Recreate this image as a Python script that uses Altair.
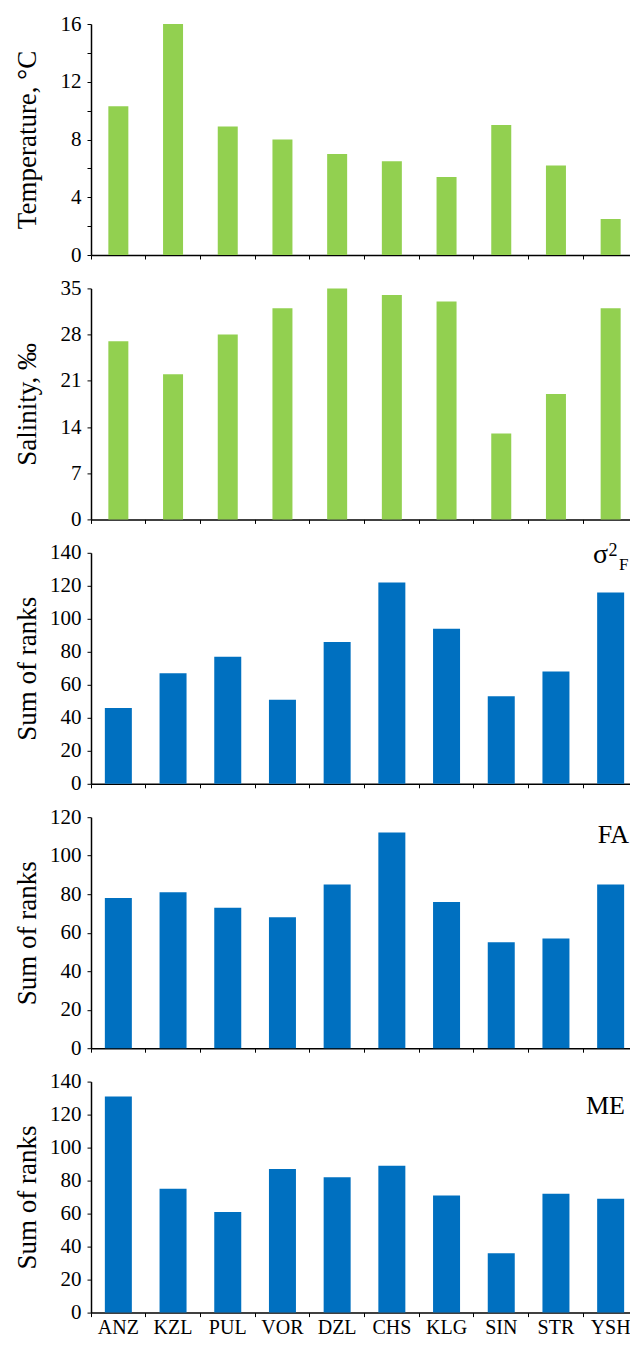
import altair as alt
import pandas as pd

# ---- data ----
sites = ["ANZ", "KZL", "PUL", "VOR", "DZL", "CHS", "KLG", "SIN", "STR", "YSH"]
temperature = [10.3, 16.0, 8.9, 8.0, 7.0, 6.5, 5.4, 9.0, 6.2, 2.5]
salinity = [27, 22, 28, 32, 35, 34, 33, 13, 19, 32]
sigma_ranks = [46, 67, 77, 51, 86, 122, 94, 53, 68, 116]
fa_ranks = [78, 81, 73, 68, 85, 112, 76, 55, 57, 85]
me_ranks = [131, 75, 61, 87, 82, 89, 71, 36, 72, 69]

temp_ticks = [0, 2, 4, 6, 8, 10, 12, 14, 16]
sal_ticks = [0, 7, 14, 21, 28, 35]
rank_ticks_140 = [0, 20, 40, 60, 80, 100, 120, 140]
rank_ticks_120 = [0, 20, 40, 60, 80, 100, 120]

FONT = "Liberation Serif"
GREEN = "#92D050"
BLUE = "#0070C0"
W = 547
H = 231


def panel(values, title, ticks, dmax, color, barsize, show_labels,
          label_expr=None, notes=None):
    df = pd.DataFrame({"site": sites, "value": values})
    x_axis = alt.Axis(
        title=None, labels=show_labels, bandPosition=0, tickSize=4,
        labelPadding=1, labelFontSize=20, labelFont=FONT, labelColor="black",
        domainColor="black", domainWidth=1.5, tickColor="black", tickWidth=1,
        labelAngle=0, grid=False,
    )
    y_kwargs = dict(
        title=title, values=ticks, tickSize=4, labelPadding=6,
        labelFontSize=21, labelFont=FONT, labelColor="black",
        domainColor="black", domainWidth=1.5, tickColor="black", tickWidth=1,
        titleFont=FONT, titleFontSize=27, titleFontWeight="normal",
        titleColor="black", titlePadding=8, minExtent=42, maxExtent=42,
        grid=False,
    )
    if label_expr:
        y_kwargs["labelExpr"] = label_expr
    bars = alt.Chart(df).mark_bar(size=barsize, color=color).encode(
        x=alt.X("site:N", sort=sites,
                scale=alt.Scale(paddingInner=0, paddingOuter=0), axis=x_axis),
        y=alt.Y("value:Q", scale=alt.Scale(domain=[0, dmax], nice=False),
                axis=alt.Axis(**y_kwargs)),
    )
    layers = [bars]
    if notes:
        for txt, xv, yv, size, align in notes:
            layers.append(
                alt.Chart(pd.DataFrame({"t": [txt]})).mark_text(
                    font=FONT, fontSize=size, align=align,
                    baseline="alphabetic", color="black",
                ).encode(text="t:N", x=alt.value(xv), y=alt.value(yv))
            )
    return alt.layer(*layers).properties(width=W, height=H)


p1 = panel(temperature, "Temperature, °C", temp_ticks, 16, GREEN, 20, False,
           label_expr="datum.value % 4 == 0 ? datum.label : ''")
p2 = panel(salinity, "Salinity, ‰", sal_ticks, 35, GREEN, 20, False)
p3 = panel(sigma_ranks, "Sum of ranks", rank_ticks_140, 140, BLUE, 27, False,
           notes=[("σ", 517, 10.5, 28, "right"),
                  ("2", 517.5, 3, 18, "left"),
                  ("F", 528, 17, 17, "left")])
p4 = panel(fa_ranks, "Sum of ranks", rank_ticks_120, 120, BLUE, 27, False,
           notes=[("FA", 538, 26, 26, "right")])
p5 = panel(me_ranks, "Sum of ranks", rank_ticks_140, 140, BLUE, 27, True,
           notes=[("ME", 534, 32, 26, "right")])

chart = alt.vconcat(
    p1, p2, p3, p4, p5, spacing=33.4, bounds="flush"
).properties(
    padding={"left": 5, "top": 5, "right": -8, "bottom": 0},
    background="white",
).configure_view(
    stroke=None
).configure_axis(
    labelFont=FONT, titleFont=FONT
)

chart.save("out.html", embed_options={"renderer": "svg", "actions": False})
